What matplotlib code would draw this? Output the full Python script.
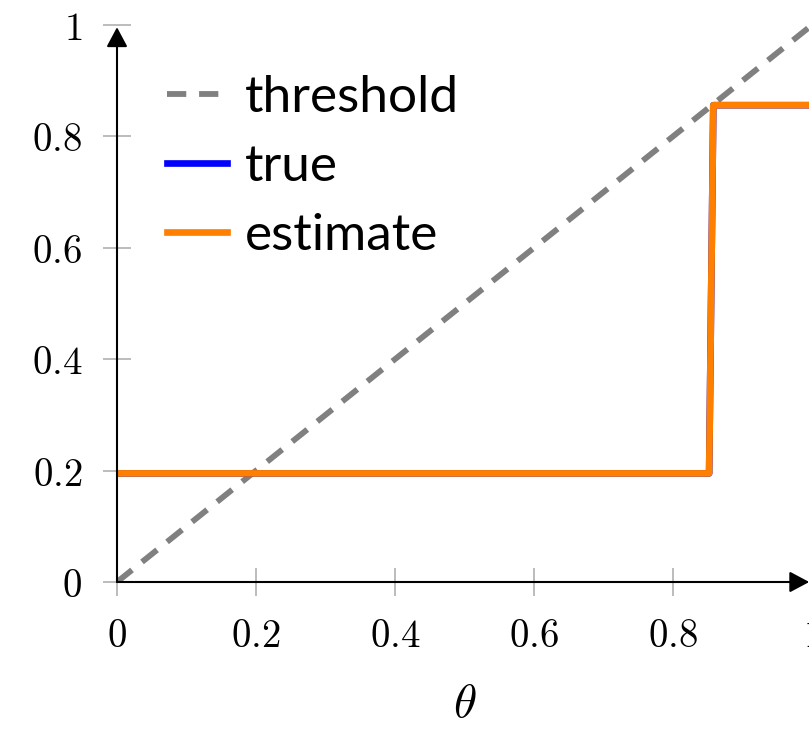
import matplotlib
matplotlib.use("Agg")
import matplotlib.pyplot as plt

plt.rcParams['mathtext.fontset'] = 'cm'

theta = [0.0, 1.0]
threshold = [0.0, 1.0]
step_x = [0.0, 0.852, 0.858, 1.0]
true_y = [0.195, 0.195, 0.856, 0.856]
est_y = [0.195, 0.195, 0.856, 0.856]
xticks = [0, 0.2, 0.4, 0.6, 0.8, 1]
yticks = [0, 0.2, 0.4, 0.6, 0.8, 1]
xticklabels = ['0', '0.2', '0.4', '0.6', '0.8', '1']
yticklabels = ['0', '0.2', '0.4', '0.6', '0.8', '1']

W, H = 809, 729
fig = plt.figure(figsize=(W/100, H/100), dpi=100)
ax = fig.add_axes([117/W, (H-582)/H, 695/W, 557/H])
ax.set_xlim(0, 1)
ax.set_ylim(0, 1)
for s in ax.spines.values():
    s.set_visible(False)

ax.plot(theta, threshold, color='#808080', lw=4.2, ls=(0, (3.3, 2.2)),
        dash_capstyle='butt', label='threshold', zorder=3)
ax.plot(step_x, true_y, color='#0000ff', lw=4.8, label='true', zorder=4)
ax.plot(step_x, est_y, color='#ff8000', lw=4.8, label='estimate', zorder=5)

arrow = dict(arrowstyle='-|>,head_length=0.6,head_width=0.32', color='black',
             lw=1.5, shrinkA=0, shrinkB=0, mutation_scale=20)
ax.annotate('', xy=(0.996, 0), xytext=(0, 0), xycoords='data', arrowprops=arrow,
            annotation_clip=False, zorder=6)
ax.annotate('', xy=(0, 0.996), xytext=(0, 0), xycoords='data', arrowprops=arrow,
            annotation_clip=False, zorder=6)

ax.set_xticks(xticks)
ax.set_yticks(yticks)
ax.set_xticklabels(['$%s$' % t for t in xticklabels])
ax.set_yticklabels(['$%s$' % t for t in yticklabels])
ax.tick_params(direction='inout', length=20, width=1.2, color='#b0b0b0',
               labelsize=28, pad=15)

ax.text(0.5, -0.22, r'$\theta$', transform=ax.transAxes, ha='center', va='center',
        fontsize=34)

leg = ax.legend(loc='upper left', bbox_to_anchor=(0.043, 0.948), frameon=False,
                prop={'family': 'Lato', 'size': 37}, handlelength=1.15,
                handletextpad=0.35, labelspacing=0.45, borderaxespad=0)

fig.savefig('out.png', dpi=100)
